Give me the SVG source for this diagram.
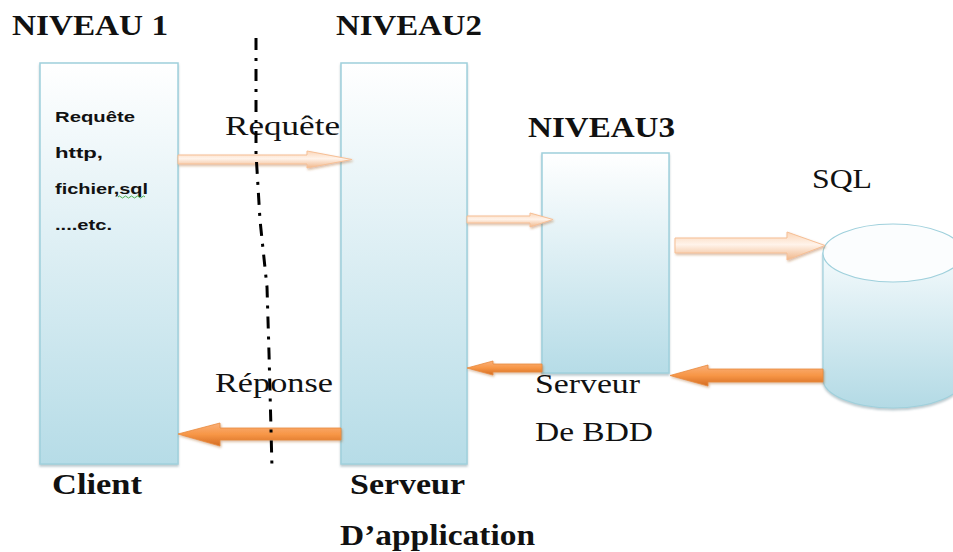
<svg xmlns="http://www.w3.org/2000/svg" width="953" height="552" viewBox="0 0 953 552">
<style>
.h{font-family:'Liberation Serif','DejaVu Serif','Times New Roman',serif;font-weight:bold;font-size:29px;fill:#111}
.t{font-family:'Liberation Serif','DejaVu Serif','Times New Roman',serif;font-size:27px;fill:#111}
.s{font-family:'Liberation Sans',Arial,sans-serif;font-weight:bold;font-size:15px;fill:#111}
.box{fill:url(#gBox);stroke:#9fd0dc;stroke-width:1.5;filter:url(#sh)}
.lt{fill:url(#gLight);stroke:#f6bf95;stroke-width:1;filter:url(#sh2)}
.or{fill:url(#gOr);stroke:#e98a3e;stroke-width:0.8;filter:url(#sh2)}
.dd{fill:none;stroke:#000;stroke-width:3;stroke-dasharray:12 8 3 8}
</style>
<defs>
<linearGradient id="gBox" x1="0" y1="0" x2="0" y2="1">
<stop offset="0" stop-color="#ffffff"/><stop offset="1" stop-color="#b6dce7"/>
</linearGradient>
<linearGradient id="gCyl" x1="0" y1="0" x2="0" y2="1">
<stop offset="0" stop-color="#f4fafc"/><stop offset="1" stop-color="#b3dae5"/>
</linearGradient>
<linearGradient id="gLight" x1="0" y1="0" x2="0" y2="1">
<stop offset="0" stop-color="#fbd6b8"/><stop offset="0.45" stop-color="#fff3ea"/><stop offset="1" stop-color="#f0b78a"/>
</linearGradient>
<linearGradient id="gOr" x1="0" y1="0" x2="0" y2="1">
<stop offset="0" stop-color="#fab07a"/><stop offset="0.5" stop-color="#f79646"/><stop offset="1" stop-color="#d46c22"/>
</linearGradient>
<filter id="sh" x="-10%" y="-10%" width="120%" height="120%">
<feDropShadow dx="0" dy="2" stdDeviation="1" flood-color="#6a8a94" flood-opacity="0.45"/>
</filter>
<filter id="sh2" x="-10%" y="-30%" width="120%" height="160%">
<feDropShadow dx="1" dy="1.5" stdDeviation="0.8" flood-color="#a0531a" flood-opacity="0.4"/>
</filter>
</defs>
<rect width="953" height="552" fill="#fff"/>

<g id="client">
<rect class="box" x="40" y="63" width="138" height="401"/>
<text class="s" x="55" y="122" textLength="80" lengthAdjust="spacingAndGlyphs">Requête</text>
<text class="s" x="55" y="158" textLength="48" lengthAdjust="spacingAndGlyphs">http,</text>
<text class="s" x="55" y="194" textLength="93" lengthAdjust="spacingAndGlyphs">fichier,sql</text>
<path d="M118,197 q1.5,-2 3,0 t3,0 t3,0 t3,0 t3,0 t3,0 t3,0 t3,0 t3,0" fill="none" stroke="#4caf50" stroke-width="1"/>
<text class="s" x="55" y="230" textLength="57" lengthAdjust="spacingAndGlyphs">....etc.</text>
<text class="h" x="52" y="494" textLength="90" lengthAdjust="spacingAndGlyphs">Client</text>
</g>

<g id="niveau2">
<rect class="box" x="341" y="63" width="126" height="401"/>
<text class="h" x="350" y="494" textLength="115" lengthAdjust="spacingAndGlyphs">Serveur</text>
<text class="h" x="340" y="545" textLength="195" lengthAdjust="spacingAndGlyphs">D’application</text>
</g>

<g id="niveau3">
<rect class="box" x="542" y="153" width="127" height="220"/>
<text class="t" x="535" y="393" textLength="105" lengthAdjust="spacingAndGlyphs">Serveur</text>
<text class="t" x="535" y="441" textLength="118" lengthAdjust="spacingAndGlyphs">De BDD</text>
</g>

<g id="sql">
<path d="M823,253 L823,379 A70,29 0 0 0 963,379 L963,253 Z" fill="url(#gCyl)" stroke="#9fd0dc" stroke-width="1.2" filter="url(#sh)"/>
<ellipse cx="893" cy="253" rx="70" ry="29" fill="#fbfdfe" stroke="#9fd0dc" stroke-width="1.2"/>
<text class="t" x="812" y="188" textLength="60" lengthAdjust="spacingAndGlyphs">SQL</text>
</g>

<g id="labels">
<text class="h" x="12" y="35" textLength="156" lengthAdjust="spacingAndGlyphs">NIVEAU 1</text>
<text class="h" x="336" y="35" textLength="146" lengthAdjust="spacingAndGlyphs">NIVEAU2</text>
<text class="h" x="528" y="137" textLength="147" lengthAdjust="spacingAndGlyphs">NIVEAU3</text>
<text class="t" x="225" y="135" textLength="115" lengthAdjust="spacingAndGlyphs">Requête</text>
<text class="t" x="215" y="392" textLength="118" lengthAdjust="spacingAndGlyphs">Réponse</text>
</g>

<g id="connectors">
<polygon class="lt" points="178,155 307,155 307,151 352,159.5 307,168 307,164 178,164"/>
<polygon class="lt" points="467,216 530,216 530,213 553,219.5 530,227 530,223 467,223"/>
<polygon class="lt" points="675,238 787,238 787,232 825,245.5 787,260 787,253 675,253"/>
<polygon class="or" points="823,369 708,369 708,365 670,375.5 708,386 708,382 823,382"/>
<polygon class="or" points="542,364 493,364 493,361 467,368 493,375 493,372 542,372"/>
<polygon class="or" points="341,428 220,428 220,423 178,434 220,446 220,440 341,440"/>
<path class="dd" d="M256,38 L256,153 L260,220 L267,287 L269,353 L272,468"/>
</g>
</svg>
